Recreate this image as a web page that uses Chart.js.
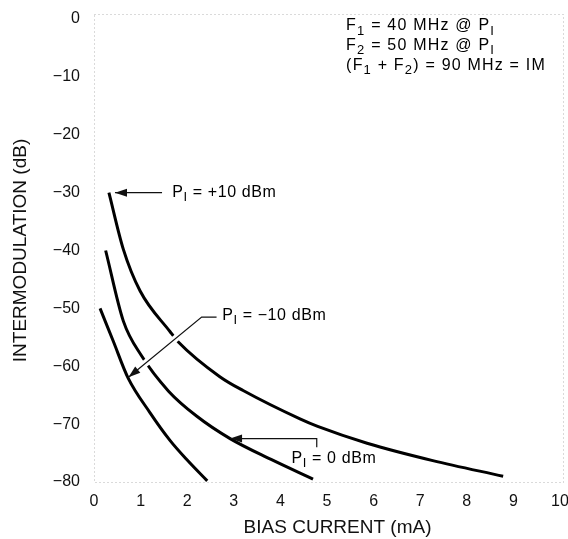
<!DOCTYPE html>
<html>
<head>
<meta charset="utf-8">
<script src="https://cdn.jsdelivr.net/npm/chart.js@4.4.1/dist/chart.umd.min.js"></script>
<style>
  html, body { margin: 0; padding: 0; background: #fff; }
  #wrap { width: 568px; height: 539px; }
</style>
</head>
<body>
<div id="wrap"><canvas id="chartContainer"></canvas></div>
<script>
// values: bias current (mA) vs intermodulation (dB)
const biasM10 = [0.13, 0.41, 0.73, 1.2, 1.63, 2.0, 2.43];
const imM10 = [-50, -55.6, -62, -68, -72.8, -76.2, -79.8];

const bias0 = [0.25, 0.63, 1.02, 1.6, 2.2, 2.92, 3.8, 4.7];
const im0 = [-40, -52.2, -58.2, -64.3, -68.6, -72.5, -76.1, -79.5];

const biasP10 = [0.32, 0.63, 0.99, 1.63, 1.81, 2.7, 3.2, 4.42, 4.8, 5.86, 7.27, 8.78];
const imP10 = [-30, -39.8, -47, -54, -55.8, -61.8, -64.2, -69.1, -70.4, -73.3, -76.3, -79];

const xTickLabels = ['0', '1', '2', '3', '4', '5', '6', '7', '8', '9', '10'];
const yTickLabels = ['0', '\u221210', '\u221220', '\u221230', '\u221240', '\u221250', '\u221260', '\u221270', '\u221280'];

const FONT = '"Liberation Sans", Arial, sans-serif';

function pts(xs, ys) {
  return xs.map((x, i) => ({ x: x, y: ys[i] }));
}

function curve(xs, ys) {
  return {
    data: pts(xs, ys),
    borderColor: '#000',
    borderWidth: 3,
    pointRadius: 0,
    fill: false,
    cubicInterpolationMode: 'monotone'
  };
}

// text with subscripts: [['F'], ['1', true], [' = 40 MHz']]
function richText(ctx, x, y, segs, spacing) {
  ctx.textBaseline = 'middle';
  ctx.textAlign = 'left';
  ctx.letterSpacing = spacing || '0px';
  segs.forEach(s => {
    ctx.font = (s[1] ? '13px ' : '16px ') + FONT;
    ctx.fillText(s[0], x, s[1] ? y + 5 : y);
    x += ctx.measureText(s[0]).width;
  });
  ctx.letterSpacing = '0px';
}

function arrowHead(ctx, tip, from) {
  const a = Math.atan2(tip[1] - from[1], tip[0] - from[0]);
  const len = 12, hw = 4;
  ctx.beginPath();
  ctx.moveTo(tip[0], tip[1]);
  ctx.lineTo(tip[0] - len * Math.cos(a) + hw * Math.sin(a), tip[1] - len * Math.sin(a) - hw * Math.cos(a));
  ctx.lineTo(tip[0] - len * Math.cos(a) - hw * Math.sin(a), tip[1] - len * Math.sin(a) + hw * Math.cos(a));
  ctx.closePath();
  ctx.fill();
}

// leader lines (data units), last point is the arrow tip
const notes = [
  { path: [[1.46, -30], [0.45, -30]], at: [1.68, -30], label: [['P'], ['I', true], [' = +10 dBm']] },
  { path: [[2.63, -51.5], [2.31, -51.5], [0.74, -61.9]], at: [2.75, -51.3], label: [['P'], ['I', true], [' = \u221210 dBm']], halo: true },
  { path: [[4.78, -74], [4.78, -72.5], [2.92, -72.5]], at: [4.24, -75.9], label: [['P'], ['I', true], [' = 0 dBm']] }
];

const legendLines = [
  [['F'], ['1', true], [' = 40 MHz @ P'], ['I', true]],
  [['F'], ['2', true], [' = 50 MHz @ P'], ['I', true]],
  [['(F'], ['1', true], [' + F'], ['2', true], [') = 90 MHz = IM']]
];

const decor = {
  id: 'decor',
  beforeDatasetsDraw(chart) {
    const { ctx, chartArea: a } = chart;
    ctx.save();
    ctx.strokeStyle = '#b5b5b5';
    ctx.lineWidth = 1;
    ctx.setLineDash([1, 3]);
    ctx.strokeRect(a.left + 0.5, a.top - 5 + 0.5, a.right - a.left + 3, a.bottom - a.top + 5);
    ctx.restore();
  },
  afterDatasetsDraw(chart) {
    const { ctx, scales: { x, y } } = chart;
    ctx.save();
    notes.forEach(n => {
      const p = n.path.map(q => [x.getPixelForValue(q[0]), y.getPixelForValue(q[1])]);
      if (n.halo) {
        const last = p[p.length - 1], prev = p[p.length - 2];
        const tipBack = p.slice(0, -1).concat([[
          last[0] + (prev[0] - last[0]) * 0.12,
          last[1] + (prev[1] - last[1]) * 0.12
        ]]);
        ctx.strokeStyle = '#fff';
        ctx.lineWidth = 7;
        ctx.beginPath();
        tipBack.forEach((q, i) => i ? ctx.lineTo(q[0], q[1]) : ctx.moveTo(q[0], q[1]));
        ctx.stroke();
      }
      ctx.strokeStyle = '#111';
      ctx.fillStyle = '#111';
      ctx.lineWidth = 1.2;
      ctx.beginPath();
      p.forEach((q, i) => i ? ctx.lineTo(q[0], q[1]) : ctx.moveTo(q[0], q[1]));
      ctx.stroke();
      arrowHead(ctx, p[p.length - 1], p[p.length - 2]);
      ctx.fillStyle = '#000';
      richText(ctx, x.getPixelForValue(n.at[0]), y.getPixelForValue(n.at[1]), n.label, '0.6px');
    });
    ctx.fillStyle = '#000';
    legendLines.forEach((l, i) => {
      richText(ctx, x.getPixelForValue(5.41), y.getPixelForValue(-1.2 - i * 3.45), l, '1.2px');
    });
    ctx.restore();
  }
};

const ctx = document.getElementById('chartContainer');

new Chart(ctx, {
  type: 'line',
  data: {
    datasets: [
      curve(biasM10, imM10),
      curve(bias0, im0),
      curve(biasP10, imP10)
    ]
  },
  options: {
    responsive: true,
    maintainAspectRatio: false,
    animation: false,
    layout: { padding: { top: 19, right: 0, left: 0, bottom: 0 } },
    plugins: {
      legend: { display: false },
      tooltip: { enabled: false }
    },
    scales: {
      x: {
        type: 'linear',
        min: 0,
        max: 10,
        grid: { display: false, drawTicks: false },
        border: { display: false },
        ticks: {
          stepSize: 1,
          padding: 10,
          color: '#111',
          font: { family: FONT, size: 16 },
          callback: (v) => xTickLabels[v]
        },
        title: {
          display: true,
          text: '\u00a0\u00a0\u00a0\u00a0BIAS CURRENT (mA)',
          color: '#111',
          font: { family: FONT, size: 19 },
          padding: { top: 0, bottom: 0 }
        },
        afterFit: (s) => { s.height = 57; s.paddingLeft = 0; s.paddingRight = 8; }
      },
      y: {
        type: 'linear',
        min: -80,
        max: 0,
        grid: { display: false, drawTicks: false },
        border: { display: false },
        ticks: {
          stepSize: 10,
          padding: 14,
          color: '#111',
          font: { family: FONT, size: 16 },
          callback: (v) => yTickLabels[-v / 10]
        },
        title: {
          display: true,
          text: 'INTERMODULATION (dB)',
          color: '#111',
          font: { family: FONT, size: 19 },
          padding: { top: 9, bottom: 0 }
        },
        afterFit: (s) => { s.width = 94; s.paddingTop = 0; s.paddingBottom = 0; }
      }
    }
  },
  plugins: [decor]
});
</script>
</body>
</html>
